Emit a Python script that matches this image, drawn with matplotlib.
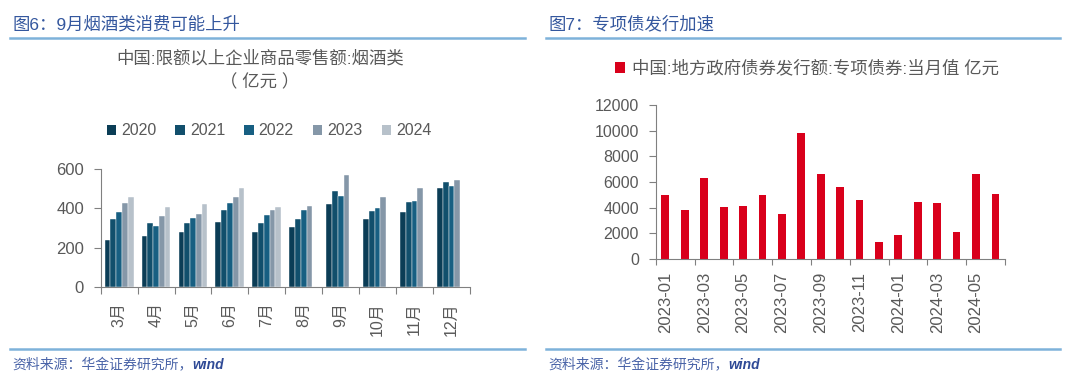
import matplotlib
matplotlib.use("Agg")
import matplotlib.pyplot as plt
from matplotlib.patches import Patch
from matplotlib.lines import Line2D
import numpy as np

plt.rcParams['font.family'] = ['Liberation Sans', 'Noto Sans CJK SC']

# left chart: tobacco & liquor retail sales (100 million yuan)
months = ['3月', '4月', '5月', '6月', '7月', '8月', '9月', '10月', '11月', '12月']
years = ['2020', '2021', '2022', '2023', '2024']
sales_2020 = [240, 259, 281, 328, 281, 304, 420, 344, 379, 502]
sales_2021 = [345, 327, 325, 391, 325, 347, 490, 388, 430, 532]
sales_2022 = [383, 310, 350, 425, 364, 393, 464, 401, 437, 514]
sales_2023 = [429, 362, 372, 457, 389, 411, 568, 456, 502, 543]
sales_2024 = [459, 406, 420, 502, 408, np.nan, np.nan, np.nan, np.nan, np.nan]
year_colors = ['#0B3D56', '#114F6C', '#175F82', '#8597A8', '#B7C1CA']

# right chart: special bond issuance (100 million yuan)
bond_months = ['2023-01', '2023-02', '2023-03', '2023-04', '2023-05', '2023-06',
               '2023-07', '2023-08', '2023-09', '2023-10', '2023-11', '2023-12',
               '2024-01', '2024-02', '2024-03', '2024-04', '2024-05', '2024-06']
bond_values = [4990, 3840, 6340, 4080, 4160, 4960, 3510, 9820, 6620,
               5640, 4570, 1350, 1900, 4420, 4340, 2100, 6600, 5090]

gray = '#595959'
head_blue = '#34579E'
line_blue = '#7EB2DA'

fig = plt.figure(figsize=(10.8, 3.84), dpi=100)

# ---- left chart
ax1 = fig.add_axes([0.0932, 0.2526, 0.3419, 0.3073])
series = [sales_2020, sales_2021, sales_2022, sales_2023, sales_2024]
x = np.arange(len(months))
w = 0.156
for i, vals in enumerate(series):
    ax1.bar(x - 0.39 + w * (i + 0.5), vals, w, color=year_colors[i],
            edgecolor='white', linewidth=0.3)
ax1.set_xlim(-0.5, len(months) - 0.5)
ax1.set_ylim(0, 600)
ax1.set_yticks([0, 200, 400, 600])
ax1.set_xticks(np.arange(-0.5, len(months)))
ax1.set_xticklabels([])
ax1.set_xticks(x, minor=True)
ax1.set_xticklabels(months, minor=True, rotation=90)
ax1.tick_params(axis='x', which='major', length=5, color='#808080')
ax1.tick_params(axis='x', which='minor', length=0, pad=11, labelsize=11.5, labelcolor=gray)
ax1.tick_params(axis='y', length=5, pad=7, labelsize=12, labelcolor=gray, color='#808080')
for s in ['top', 'right']:
    ax1.spines[s].set_visible(False)
for s in ['left', 'bottom']:
    ax1.spines[s].set_color('#808080')

fig.text(260 / 1080, 1 - 58 / 384, '中国:限额以上企业商品零售额:烟酒类', ha='center', va='center',
         fontsize=12.5, color=gray)
fig.text(260 / 1080, 1 - 82 / 384, '（ 亿元 ）', ha='center', va='center',
         fontsize=12.5, color=gray)
handles = [Patch(facecolor=c, edgecolor='none') for c in year_colors]
fig.legend(handles, years, loc='center', bbox_to_anchor=(269 / 1080, 1 - 131 / 384),
           ncol=5, frameon=False, fontsize=11.5, handlelength=0.6, handleheight=0.6,
           handletextpad=0.3, columnspacing=1.2, labelcolor=gray)

# ---- right chart
ax2 = fig.add_axes([0.6071, 0.3255, 0.3236, 0.4010])
xb = np.arange(len(bond_months))
ax2.bar(xb, bond_values, 0.4, color='#D9001B')
ax2.set_xlim(-0.5, len(bond_months) - 0.5)
ax2.set_ylim(0, 12000)
ax2.set_yticks(range(0, 12001, 2000))
ax2.set_xticks(np.arange(-0.5, len(bond_months), 2))
ax2.set_xticklabels([])
ax2.set_xticks(xb[::2], minor=True)
ax2.set_xticklabels(bond_months[::2], minor=True, rotation=90)
ax2.tick_params(axis='x', which='major', length=4, color='#808080')
ax2.tick_params(axis='x', which='minor', length=0, pad=9, labelsize=12, labelcolor=gray)
ax2.tick_params(axis='y', length=5, pad=7, labelsize=11.5, labelcolor=gray, color='#808080')
for s in ['top', 'right']:
    ax2.spines[s].set_visible(False)
for s in ['left', 'bottom']:
    ax2.spines[s].set_color('#808080')
fig.legend([Patch(facecolor='#D9001B')], ['中国:地方政府债券发行额:专项债券:当月值 亿元'],
           loc='center', bbox_to_anchor=(807 / 1080, 1 - 68 / 384), frameon=False,
           fontsize=12.5, handlelength=0.6, handleheight=0.6, handletextpad=0.4,
           labelcolor=gray)

# ---- headers, rules and sources
fig.text(12 / 1080, 1 - 24 / 384, '图6：9月烟酒类消费可能上升', ha='left', va='center',
         fontsize=12.5, color=head_blue)
fig.text(548 / 1080, 1 - 24 / 384, '图7：专项债发行加速', ha='left', va='center',
         fontsize=12.5, color=head_blue)
for x0, x1 in [(10, 525), (546, 1060)]:
    fig.add_artist(Line2D([x0 / 1080, x1 / 1080], [1 - 38 / 384] * 2, color=line_blue, lw=1.8))
    fig.add_artist(Line2D([x0 / 1080, x1 / 1080], [1 - 349 / 384] * 2, color=line_blue, lw=1.8))
for xs in [12, 548]:
    t = fig.text(xs / 1080, 1 - 365 / 384, '资料来源：华金证券研究所，', ha='left', va='center',
                 fontsize=10, color='#4A64A8', style='italic')
    fig.canvas.draw()
    bb = t.get_window_extent()
    fig.text(bb.x1 / 1080, 1 - 365 / 384, 'wind', ha='left', va='center',
             fontsize=10, color='#2F4A96', style='italic', weight='bold')

fig.savefig('out.png', dpi=100)
